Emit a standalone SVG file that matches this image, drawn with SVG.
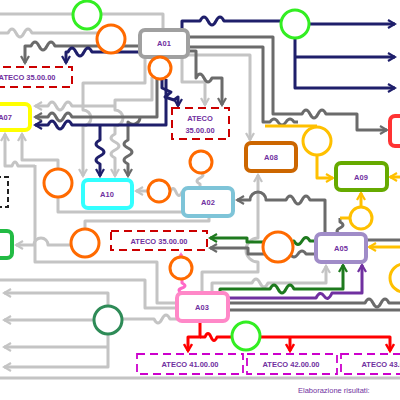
<svg xmlns="http://www.w3.org/2000/svg" width="400" height="400" viewBox="0 0 400 400">
<style>
.c path,.c line{fill:none;stroke-width:3;stroke-linejoin:round}
.n{stroke:#1f1f6b}.d{stroke:#6b6b6b}.l{stroke:#c4c4c4}.g{stroke:#1e7a1e}.p{stroke:#7030a0}.r{stroke:#ff0000}.y{stroke:#ffc000}.k{stroke:#ff69c8}
.box{fill:#fff;stroke-width:4}
.cir{fill:#fff;stroke-width:3}
.o{stroke:#ff6a00}
.t{font-family:"Liberation Sans",Arial,sans-serif;font-size:7.5px;fill:#7030a0;text-anchor:middle;font-weight:bold}
.at{fill:none;stroke:#cc0000;stroke-width:2;stroke-dasharray:8 5}
.mg{fill:none;stroke:#cc00cc;stroke-width:1.8;stroke-dasharray:8 5}
</style>
<defs>
<marker id="an" viewBox="0 0 10 10" markerWidth="10" markerHeight="10" markerUnits="userSpaceOnUse" refX="8" refY="5" orient="auto"><path d="M1,1 L8,5 L1,9" fill="none" stroke="#1f1f6b" stroke-width="2.2"/></marker>
<marker id="ad" viewBox="0 0 10 10" markerWidth="10" markerHeight="10" markerUnits="userSpaceOnUse" refX="8" refY="5" orient="auto"><path d="M1,1 L8,5 L1,9" fill="none" stroke="#6b6b6b" stroke-width="2.2"/></marker>
<marker id="al" viewBox="0 0 10 10" markerWidth="10" markerHeight="10" markerUnits="userSpaceOnUse" refX="8" refY="5" orient="auto"><path d="M1,1 L8,5 L1,9" fill="none" stroke="#c4c4c4" stroke-width="2.2"/></marker>
<marker id="ag" viewBox="0 0 10 10" markerWidth="10" markerHeight="10" markerUnits="userSpaceOnUse" refX="8" refY="5" orient="auto"><path d="M1,1 L8,5 L1,9" fill="none" stroke="#1e7a1e" stroke-width="2.2"/></marker>
<marker id="ap" viewBox="0 0 10 10" markerWidth="10" markerHeight="10" markerUnits="userSpaceOnUse" refX="8" refY="5" orient="auto"><path d="M1,1 L8,5 L1,9" fill="none" stroke="#7030a0" stroke-width="2.2"/></marker>
<marker id="ar" viewBox="0 0 10 10" markerWidth="10" markerHeight="10" markerUnits="userSpaceOnUse" refX="8" refY="5" orient="auto"><path d="M1,1 L8,5 L1,9" fill="none" stroke="#ff0000" stroke-width="2.4"/></marker>
<marker id="ay" viewBox="0 0 10 10" markerWidth="10" markerHeight="10" markerUnits="userSpaceOnUse" refX="8" refY="5" orient="auto"><path d="M1,1 L8,5 L1,9" fill="none" stroke="#ffc000" stroke-width="2.2"/></marker>
<marker id="ak" viewBox="0 0 10 10" markerWidth="10" markerHeight="10" markerUnits="userSpaceOnUse" refX="8" refY="5" orient="auto"><path d="M0,0 L10,5 L0,10 z" fill="#ff69c8"/></marker>
</defs>
<rect width="400" height="400" fill="#fff"/>
<g id="connectors" class="c">
<!-- light gray -->
<path class="l" d="M0,14 H163 V30"/>
<path class="l" d="M0,33 H8 q4,-8 8,0 t8,0 t8,0 H98"/>
<path class="l" d="M145,57 V83 H83 V110 a8,8 0 0 1 0,16 V176" marker-end="url(#al)"/>
<path class="l" d="M152,77 V100 H115 V110 a8,8 0 0 1 0,16 V134 q-8,4 0,8 t0,8 t0,8 V176" marker-end="url(#al)"/>
<path class="l" d="M115,106 H72 q-4,-8 -8,0 t-8,0 t-8,0 H35" marker-end="url(#al)"/>
<path class="l" d="M183,212 H58 V160 H22 V134" marker-end="url(#al)"/>
<path class="l" d="M177,303 H157 V262 H35 V165"/>
<path class="l" d="M35,166 H18 q-3,-8 -6,0 H5 V134" marker-end="url(#al)"/>
<path class="l" d="M71,245 H48 a7,7 0 0 0 -14,0 H16" marker-end="url(#al)"/>
<path class="l" d="M85,229 V221 H209 V216"/>
<path class="l" d="M148,191 H136" marker-end="url(#al)"/>
<path class="l" d="M170,192 q3,-7 6,0 t6,0 H183"/>
<path class="l" d="M200,172 q6,3 0,6 t0,6 V188"/>
<path class="l" d="M188,55 H250 V140" marker-end="url(#al)"/>
<path class="l" d="M182,57 V82 H205 V105" marker-end="url(#al)"/>
<path class="l" d="M202,293 V272 H258 V262 a12,12 0 0 1 0,-24 V175" marker-end="url(#al)"/>
<path class="l" d="M212,293 V283 H252 q4,-8 8,0 t8,0 H326 V266" marker-end="url(#al)"/>
<path class="l" d="M177,308 H145 V280 H0"/>
<path class="l" d="M177,319 H170 q-4,-8 -8,0 t-8,0 H122"/>
<path class="l" d="M94,320 H4" marker-end="url(#al)"/>
<path class="l" d="M108,306 V293 H4" marker-end="url(#al)"/>
<path class="l" d="M108,334 V367 H4" marker-end="url(#al)"/>
<path class="l" d="M108,347 H4" marker-end="url(#al)"/>
<path class="l" d="M0,378 H400"/>
<!-- dark gray -->
<path class="d" d="M140,46 H55 q-4,-8 -8,0 t-8,0 t-8,0 H25 V63" marker-end="url(#ad)"/>
<path class="d" d="M157,79 V117 H72 q-4,-8 -8,0 t-8,0 t-8,0 H35" marker-end="url(#ad)"/>
<path class="d" d="M140,117 a7,7 0 0 1 -12,5 V140 q-8,4 0,8 t0,8 t0,8 V176" marker-end="url(#ad)"/>
<path class="d" d="M188,37 H273 V114 H302 q4,-8 8,0 t8,0 t8,0 H357 V130 H387" marker-end="url(#ad)"/>
<path class="d" d="M188,47 H263 V122 H270 q4,-6 8,0 t8,0 t8,0 H298"/>
<path class="d" d="M188,51 H196 V78 q4,-8 8,0 t8,0 H222 V105" marker-end="url(#ad)"/>
<path class="d" d="M325,234 V200 H310 q-4,-8 -8,0 t-8,0 t-8,0 H266 a8,8 0 0 0 -16,0 H237" marker-end="url(#ad)"/>
<path class="d" d="M340,234 q-6,-3 0,-6 t0,-6 V218"/>
<path class="d" d="M316,254 H306 q-4,-6 -8,0 t-8,0 H248 V248 H210" marker-end="url(#ad)"/>
<path class="d" d="M367,240 H400"/>
<path class="d" d="M228,303 H365 q4,-8 8,0 t8,0 t8,0 H400"/>
<path class="d" d="M228,310 H400"/>
<!-- navy -->
<path class="n" d="M182,30 V21 H200 q4,-8 8,0 t8,0 t8,0 H281"/>
<path class="n" d="M309,24 H395" marker-end="url(#an)"/>
<path class="n" d="M295,38 V88 H395" marker-end="url(#an)"/>
<path class="n" d="M295,57 H395" marker-end="url(#an)"/>
<path class="n" d="M140,52 H92 q-4,-8 -8,0 t-8,0 t-8,0 H66 V63" marker-end="url(#an)"/>
<path class="n" d="M166,79 V125 H72 q-4,-8 -8,0 t-8,0 t-8,0 H35" marker-end="url(#an)"/>
<path class="n" d="M100,125 V140 q-8,4 0,8 t0,8 t0,8 V176" marker-end="url(#an)"/>
<path class="n" d="M162,79 V88 L171,92 L165,97 L174,100 L178,97 V106" marker-end="url(#an)"/>
<!-- green -->
<path class="g" d="M316,241 H310 q-4,-7 -8,0 t-8,0 H293"/>
<path class="g" d="M263,242 H247 V238 H210" marker-end="url(#ag)"/>
<path class="g" d="M220,293 V289 H270 q4,-8 8,0 t8,0 t8,0 H343 V265" marker-end="url(#ag)"/>
<!-- purple -->
<path class="p" d="M228,298 H316 q4,-8 8,-2 t8,-3 H362 V265" marker-end="url(#ap)"/>
<!-- red -->
<path class="r" d="M200,322 V337 H188 V351" marker-end="url(#ar)"/>
<path class="r" d="M200,337 H205 q3,-7 6,0 t6,0 H390 V351" marker-end="url(#ar)"/>
<path class="r" d="M290,337 V351" marker-end="url(#ar)"/>
<!-- yellow -->
<path class="y" d="M265,126 H317"/>
<path class="y" d="M317,155 V178 H333" marker-end="url(#ay)"/>
<path class="y" d="M400,177 H390" marker-end="url(#ay)"/>
<path class="y" d="M361,207 V193" marker-end="url(#ay)"/>
<path class="y" d="M340,218 H350"/>
<path class="y" d="M400,247 H369" marker-end="url(#ay)"/>
<!-- pink -->
<path class="k" d="M182,293 q-6,-3 0,-5 t0,-5 V279"/>
<path class="k" d="M181,257 V254" marker-end="url(#ak)"/>
</g>
<g id="ateco-top"><rect class="at" x="-10" y="67" width="82" height="20"/><text class="t" x="27" y="80" font-weight="normal">ATECO 35.00.00</text></g>
<g id="ateco-mid"><rect class="at" x="172" y="108" width="57" height="31"/><text class="t" x="200" y="121">ATECO</text><text class="t" x="200" y="133">35.00.00</text></g>
<g id="ateco-center"><rect class="at" x="111" y="231" width="96" height="19"/><text class="t" x="159" y="244">ATECO 35.00.00</text></g>
<g id="ateco41"><rect class="mg" x="137" y="354" width="106" height="20"/><text class="t" x="190" y="367">ATECO 41.00.00</text></g>
<g id="ateco42"><rect class="mg" x="247" y="354" width="90" height="20"/><text class="t" x="291" y="367">ATECO 42.00.00</text></g>
<g id="ateco43"><rect class="mg" x="341" y="354" width="80" height="20"/><text class="t" x="390" y="367">ATECO 43.00.00</text></g>
<g id="A01"><rect class="box" x="140" y="30" width="48" height="27" rx="5" stroke="#a0a0a0"/><text class="t" x="164" y="46">A01</text></g>
<g id="A07"><rect class="box" x="-20" y="104" width="50" height="26" rx="5" stroke="#ffff00"/><text class="t" x="5" y="120">A07</text></g>
<g id="A10"><rect class="box" x="83" y="180" width="49" height="28" rx="5" stroke="#33ffff"/><text class="t" x="107" y="197">A10</text></g>
<g id="A02"><rect class="box" x="183" y="188" width="50" height="28" rx="5" stroke="#7ec4d8"/><text class="t" x="208" y="205">A02</text></g>
<g id="A08"><rect class="box" x="246" y="143" width="50" height="28" rx="5" stroke="#cc6600"/><text class="t" x="271" y="160">A08</text></g>
<g id="A09"><rect class="box" x="336" y="163" width="51" height="27" rx="5" stroke="#66aa00"/><text class="t" x="361" y="180">A09</text></g>
<g id="A05"><rect class="box" x="316" y="234" width="50" height="28" rx="5" stroke="#a08cc8"/><text class="t" x="341" y="251">A05</text></g>
<g id="A03"><rect class="box" x="177" y="293" width="51" height="28" rx="5" stroke="#ff88c8"/><text class="t" x="202" y="310">A03</text></g>
<g id="red-node"><rect class="box" x="390" y="116" width="30" height="30" rx="5" stroke="#ff3333"/></g>
<g id="green-node"><rect class="box" x="-20" y="231" width="32" height="27" rx="5" stroke="#22bb44"/></g>
<g id="dashed-node"><rect x="-20" y="177" width="28" height="30" fill="#fff" stroke="#222" stroke-width="2" stroke-dasharray="5 3"/></g>
<g id="circles">
<circle class="cir" cx="87" cy="15" r="14" stroke="#33ee22"/>
<circle class="cir o" cx="111" cy="39" r="14"/>
<circle class="cir o" cx="160" cy="68" r="11"/>
<circle class="cir" cx="295" cy="24" r="14" stroke="#33ee22"/>
<circle class="cir o" cx="58" cy="183" r="14"/>
<circle class="cir o" cx="159" cy="191" r="11"/>
<circle class="cir o" cx="201" cy="162" r="11"/>
<circle class="cir o" cx="85" cy="243" r="14"/>
<circle class="cir o" cx="278" cy="247" r="15"/>
<circle class="cir o" cx="181" cy="268" r="11"/>
<circle class="cir" cx="317" cy="141" r="14" stroke="#ffc000"/>
<circle class="cir" cx="361" cy="218" r="11" stroke="#ffc000"/>
<circle class="cir" cx="404" cy="278" r="14" stroke="#ffc000"/>
<circle class="cir" cx="108" cy="320" r="14" stroke="#2e8b57"/>
<circle class="cir" cx="246" cy="336" r="14" stroke="#33ee22"/>
</g>
<text x="298" y="393" font-family="Liberation Sans, Arial, sans-serif" font-size="7.5" fill="#7030a0">Elaborazione risultati:</text>
</svg>
